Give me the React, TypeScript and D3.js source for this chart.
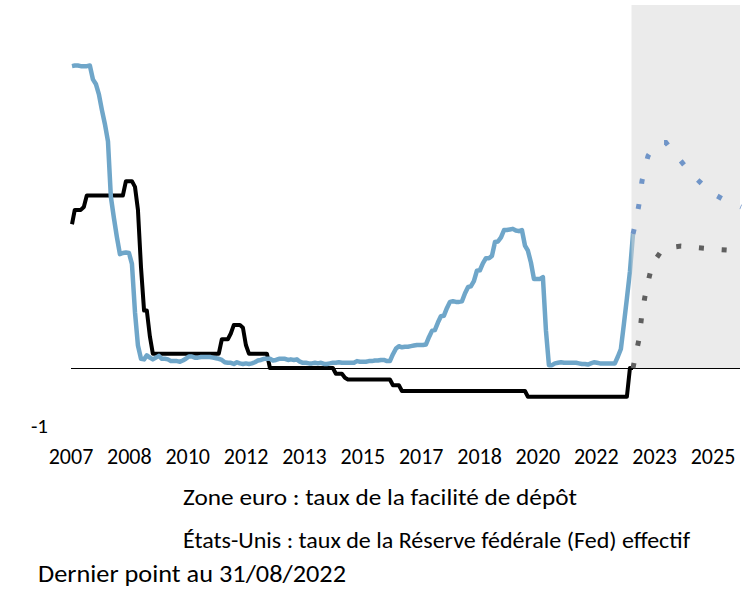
import React from "react";
import * as d3 from "d3";

const W = 744;
const H = 589;

// Fed effective rate, monthly averages, from 2007-01 to 2022-08
const fedStart: [number, number] = [2007, 1];
const fedValues: number[] = [
  5.25, 5.26, 5.26, 5.25, 5.25, 5.25, 5.26, 5.02, 4.94, 4.76, 4.49, 4.24,
  3.94, 2.98, 2.61, 2.28, 1.98, 2.0, 2.01, 2.0, 1.81, 0.97, 0.39, 0.16,
  0.15, 0.22, 0.18, 0.15, 0.18, 0.21, 0.16, 0.16, 0.15, 0.12, 0.12, 0.12,
  0.11, 0.13, 0.16, 0.2, 0.2, 0.18, 0.18, 0.19, 0.19, 0.19, 0.19, 0.18,
  0.17, 0.16, 0.14, 0.1, 0.09, 0.09, 0.07, 0.1, 0.08, 0.07, 0.08, 0.07,
  0.08, 0.1, 0.13, 0.14, 0.16, 0.16, 0.16, 0.13, 0.14, 0.16, 0.16, 0.16,
  0.14, 0.15, 0.14, 0.15, 0.11, 0.09, 0.09, 0.08, 0.08, 0.09, 0.08, 0.09,
  0.07, 0.07, 0.08, 0.09, 0.09, 0.1, 0.09, 0.09, 0.09, 0.09, 0.09, 0.12,
  0.11, 0.11, 0.11, 0.12, 0.12, 0.13, 0.13, 0.14, 0.14, 0.12, 0.12, 0.24,
  0.34, 0.38, 0.36, 0.37, 0.37, 0.38, 0.39, 0.4, 0.4, 0.4, 0.41, 0.54,
  0.65, 0.66, 0.79, 0.9, 0.91, 1.04, 1.15, 1.16, 1.15, 1.15, 1.16, 1.3,
  1.41, 1.42, 1.51, 1.69, 1.7, 1.82, 1.91, 1.91, 1.95, 2.19, 2.2, 2.27,
  2.4, 2.4, 2.41, 2.42, 2.39, 2.38, 2.4, 2.13, 2.04, 1.83, 1.55, 1.55,
  1.55, 1.58, 0.65, 0.05, 0.05, 0.08, 0.09, 0.1, 0.09, 0.09, 0.09, 0.09,
  0.09, 0.08, 0.07, 0.07, 0.06, 0.08, 0.1, 0.09, 0.08, 0.08, 0.08, 0.08,
  0.08, 0.08, 0.2, 0.33, 0.77, 1.21, 1.68, 2.33,
];

// ECB deposit facility rate (month, value) break points
const ecbMonths: string[] = [
  "2007-01", "2007-02", "2007-04", "2007-05", "2007-06", "2008-06", "2008-07",
  "2008-09", "2008-10", "2008-11", "2008-12", "2009-01", "2009-02", "2009-03",
  "2009-04", "2011-02", "2011-03", "2011-05", "2011-06", "2011-07", "2011-09",
  "2011-10", "2011-11", "2011-12", "2012-06", "2012-07", "2014-04", "2014-05",
  "2014-07", "2014-08", "2014-09", "2015-11", "2015-12", "2016-02", "2016-03",
  "2019-08", "2019-09", "2022-06", "2022-07", "2022-08",
];
const ecbValues: number[] = [
  2.5, 2.75, 2.75, 2.8, 3.0, 3.0, 3.25,
  3.25, 3.15, 2.75, 1.75, 1.0, 1.0, 0.55,
  0.25, 0.25, 0.5, 0.5, 0.6, 0.75, 0.75,
  0.7, 0.4, 0.25, 0.25, 0.0, 0.0, -0.1,
  -0.1, -0.17, -0.2, -0.2, -0.3, -0.3, -0.4,
  -0.4, -0.5, -0.5, 0.0, 0.0,
];

// Projections
const fedProjMonths: string[] = [
  "2022-08", "2022-09", "2022-10", "2022-11", "2022-12", "2023-01", "2023-03",
  "2023-05", "2023-07", "2023-10", "2024-04", "2024-10", "2025-04", "2025-08",
];
const fedProjValues: number[] = [
  2.33, 2.55, 2.85, 3.25, 3.5, 3.69, 3.85, 3.92, 3.92, 3.72, 3.35, 3.05, 2.88, 2.8,
];
const ecbProjMonths: string[] = [
  "2022-08", "2022-09", "2022-10", "2022-11", "2022-12", "2023-01", "2023-02",
  "2023-03", "2023-05", "2023-09", "2023-12", "2024-06", "2025-01", "2025-04",
];
const ecbProjValues: number[] = [
  0.0, 0.25, 0.5, 0.95, 1.25, 1.5, 1.7, 1.85, 2.0, 2.1, 2.12, 2.09, 2.06, 2.05,
];

const xTickLabels: string[] = [
  "2007", "2008", "2010", "2012", "2013", "2015", "2017", "2018", "2020", "2022", "2023", "2025",
];
const yTickValues: number[] = [-1];

const legendLabels: string[] = [
  "Zone euro : taux de la facilité de dépôt",
  "États-Unis : taux de la Réserve fédérale (Fed) effectif",
];
const legendWidths: number[] = [394, 507];
const footnote = "Dernier point au 31/08/2022";

const FONT = "Carlito, Calibri, Lato, sans-serif";

function endOfMonth(s: string): Date {
  const [y, m] = s.split("-").map(Number);
  return new Date(y, m, 0);
}

type Pt = { date: Date; v: number };

export default function App() {
  const fed: Pt[] = fedValues.map((v, i) => ({
    date: new Date(fedStart[0], fedStart[1] - 1 + i + 1, 0),
    v,
  }));
  const ecb: Pt[] = ecbMonths.map((m, i) => ({ date: endOfMonth(m), v: ecbValues[i] }));
  const fedProj: Pt[] = fedProjMonths.map((m, i) => ({ date: endOfMonth(m), v: fedProjValues[i] }));
  const ecbProj: Pt[] = ecbProjMonths.map((m, i) => ({ date: endOfMonth(m), v: ecbProjValues[i] }));

  const firstDate = fed[0].date;
  const lastDate = fed[fed.length - 1].date;

  const plotLeft = 71;
  const plotRight = 740;
  const plotTop = 5;

  const x = d3.scaleTime().domain([firstDate, lastDate]).range([72, 633]);
  const y = d3.scaleLinear().domain([-1, 6]).range([425.5, 23]);
  const xLab = d3.scalePoint<string>().domain(xTickLabels).range([71, 713]);

  const line = d3
    .line<Pt>()
    .x((d) => x(d.date))
    .y((d) => y(d.v));

  const grayX = x(lastDate) - 1.5;

  return (
    <svg width={W} height={H} style={{ position: "absolute", left: 0, top: 0 }}>
      <rect x={0} y={0} width={W} height={H} fill="#ffffff" />
      <line
        x1={plotLeft}
        x2={plotRight}
        y1={y(0)}
        y2={y(0)}
        stroke="#000"
        strokeWidth={1}
        shapeRendering="crispEdges"
      />
      <path d={line(ecb) || ""} fill="none" stroke="#000" strokeWidth={4} strokeLinejoin="round" />
      <path d={line(fed) || ""} fill="none" stroke="#6fa6c9" strokeWidth={4.5} strokeLinejoin="round" />
      <rect
        x={grayX}
        y={plotTop}
        width={plotRight - grayX}
        height={y(0) - plotTop}
        fill="#d8d8d8"
        fillOpacity={0.5}
      />
      <path
        d={line(ecbProj) || ""}
        fill="none"
        stroke="#5f5f5f"
        strokeWidth={5}
        strokeDasharray="5 17.8"
      />
      <path
        d={line(fedProj) || ""}
        fill="none"
        stroke="#7095c8"
        strokeWidth={5}
        strokeDasharray="5 20.5"
      />
      {yTickValues.map((v) => (
        <text
          key={v}
          x={48}
          y={y(v)}
          textAnchor="end"
          dominantBaseline="central"
          fontFamily={FONT}
          fontSize={21}
          fill="#000"
        >
          {String(v)}
        </text>
      ))}
      {xTickLabels.map((t) => (
        <text
          key={t}
          x={xLab(t)}
          y={456}
          textAnchor="middle"
          dominantBaseline="central"
          fontFamily={FONT}
          fontSize={22}
          fill="#000"
        >
          {t}
        </text>
      ))}
      {legendLabels.map((t, i) => (
        <text
          key={t}
          x={183}
          y={505 + i * 43}
          fontFamily={FONT}
          fontSize={23}
          textLength={legendWidths[i]}
          lengthAdjust="spacingAndGlyphs"
          fill="#000"
        >
          {t}
        </text>
      ))}
      <text
        x={38}
        y={582}
        fontFamily={FONT}
        fontSize={24}
        textLength={308}
        lengthAdjust="spacingAndGlyphs"
        fill="#000"
      >
        {footnote}
      </text>
    </svg>
  );
}
